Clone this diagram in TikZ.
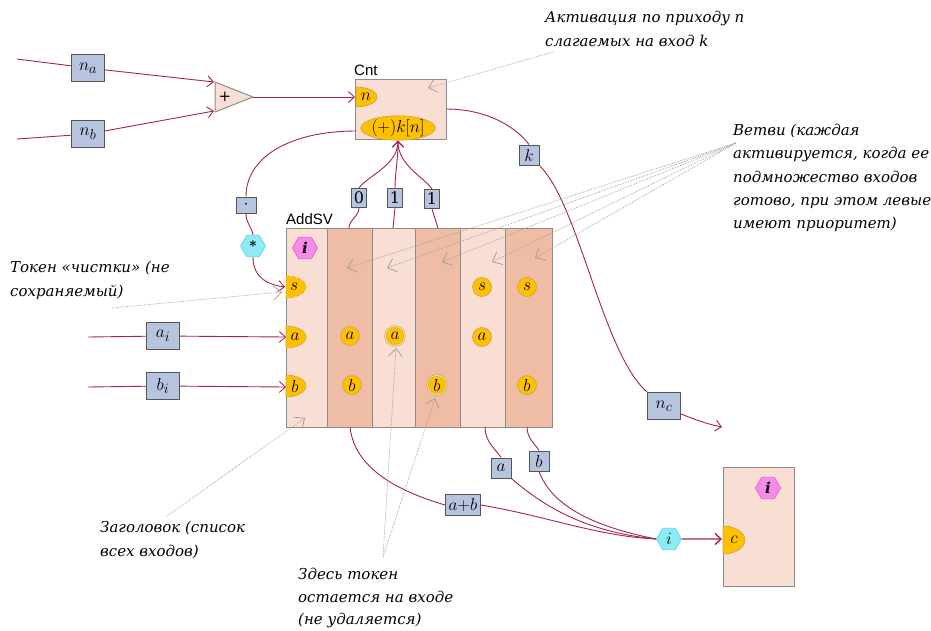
\documentclass[tikz,border=0pt]{standalone}
\usepackage{fontspec}
\setmainfont{DejaVu Serif}
\newfontfamily\sansf{Liberation Sans}
\usetikzlibrary{arrows.meta,shapes.geometric}
\definecolor{wirec}{RGB}{165,35,80}
\definecolor{tokc}{RGB}{255,192,0}
\definecolor{tokb}{RGB}{200,165,70}
\definecolor{boxb}{RGB}{183,196,224}
\definecolor{boxe}{RGB}{85,85,85}
\definecolor{peachL}{RGB}{248,222,211}
\definecolor{peachD}{RGB}{239,188,166}
\definecolor{bord}{RGB}{140,140,140}
\definecolor{cyanh}{RGB}{140,236,246}
\definecolor{cyanb}{RGB}{90,210,230}
\definecolor{pinkh}{RGB}{246,140,232}
\definecolor{pinkb}{RGB}{225,90,210}
\definecolor{anng}{RGB}{155,155,155}
\begin{document}
\begin{tikzpicture}[x=1pt,y=-1pt,
  wire/.style={draw=wirec,line width=0.9pt},
  warr/.style={wire,-{Straight Barb[length=6pt,width=11pt]}},
  lblbox/.style={draw=boxe,fill=boxb,line width=1pt,minimum width=33pt,minimum height=27pt,inner sep=1pt,font=\fontsize{19}{21}\selectfont},
  sbox/.style={lblbox,minimum width=20pt,minimum height=20pt,font=\fontsize{17}{19}\selectfont},
  tbox/.style={lblbox,minimum width=15pt,minimum height=19pt,font=\fontsize{16}{18}\selectfont},
  tok/.style={circle,fill=tokc,draw=tokb,line width=0.6pt,minimum size=19pt,inner sep=0pt,font=\fontsize{17}{17}\selectfont},
  tokd/.style={tok,draw=tokb,double=tokc!45!white,double distance=1pt},
  hexc/.style={regular polygon,regular polygon sides=6,minimum size=25pt,inner sep=0pt,fill=cyanh,draw=cyanb,line width=0.6pt,font=\fontsize{17}{17}\selectfont},
  hexp/.style={hexc,fill=pinkh,draw=pinkb,font=\fontsize{15}{15}\selectfont},
  colL/.style={draw=bord,fill=peachL,line width=1pt,minimum height=199pt,anchor=north west,inner sep=0pt},
  colD/.style={colL,fill=peachD},
  port/.style={fill=tokc,draw=tokb,line width=0.6pt},
  plbl/.style={inner sep=0pt,font=\fontsize{17}{17}\selectfont},
  ann/.style={draw=anng,densely dotted,line width=0.7pt,-{Straight Barb[length=8pt,width=14pt]}},
  anntext/.style={font=\fontsize{15}{24}\selectfont\itshape,align=left,inner sep=0pt,anchor=north west},
  title/.style={font=\sansf\fontsize{15}{15}\selectfont,inner sep=0pt,anchor=base west}
]
\useasboundingbox (0,0) rectangle (931,630);

% ---------- inputs n_a, n_b and adder ----------
\coordinate (naS) at (17,59);
\coordinate (nbS) at (17,139);
\node[lblbox] (na) at (88,68) {$n_a$};
\node[lblbox] (nb) at (88,134) {$n_b$};
\draw[fill=peachL,draw=bord,line width=1pt] (215,82) -- (253,97) -- (215,112) -- cycle;
\node[inner sep=0pt,font=\fontsize{15}{15}\selectfont] (plus) at (225,97) {+};
\coordinate (tin1) at (214,82);
\coordinate (tin2) at (214,111);
\coordinate (tout) at (253,97);
\draw[wire] (naS) -- (na);
\draw[wire] (nbS) -- (nb);
\draw[warr] (na) -- (tin1);
\draw[warr] (nb) -- (tin2);

% ---------- Cnt ----------
\node[draw=bord,fill=peachL,line width=1pt,minimum width=91pt,minimum height=60pt,inner sep=0pt] (cnt) at (400.5,109) {};
\node[title] (cnttitle) at (354,75) {Cnt};
\path[port] (356,87) arc[start angle=90,end angle=-90,x radius=21pt,y radius=10pt] -- cycle;
\node[plbl] (nport) at (366,97) {$n$};
\coordinate (cntn) at (355,97);
\node[ellipse,fill=tokc,draw=tokb,line width=0.6pt,minimum width=57pt,minimum height=20pt,inner sep=0pt,font=\fontsize{16}{16}\selectfont] (kn) at (398,128) {$(+)k[n]$};
\draw[warr] (tout) -- (cntn);

% ---------- AddSV ----------
\node[colL,minimum width=41pt] (c1) at (286,228) {};
\node[colD,minimum width=45pt] (c2) at (327,228) {};
\node[colL,minimum width=43pt] (c3) at (372,228) {};
\node[colD,minimum width=45pt] (c4) at (415,228) {};
\node[colL,minimum width=45pt] (c5) at (460,228) {};
\node[colD,minimum width=47pt] (c6) at (505,228) {};
\node[title] (addtitle) at (286,224) {AddSV};
\node[hexp] (hdi) at (305,248) {\bfseries\itshape i};
\path[port,dashed] (286,276) arc[start angle=90,end angle=-90,x radius=20pt,y radius=11pt] -- cycle;
\path[port] (286,326) arc[start angle=90,end angle=-90,x radius=20pt,y radius=11pt] -- cycle;
\path[port] (286,375) arc[start angle=90,end angle=-90,x radius=20pt,y radius=11pt] -- cycle;
\node[plbl] (ps) at (294,287) {$s$};
\node[plbl] (pa) at (295,337) {$a$};
\node[plbl] (pb) at (295,386) {$b$};
\coordinate (spin) at (285,287);
\coordinate (pain) at (286,337);
\coordinate (pbin) at (286,387);
\node[tok] (t2a) at (350,336) {$a$};
\node[tok] (t2b) at (352,385) {$b$};
\node[tokd] (t3a) at (395,336) {$a$};
\node[tokd] (t4b) at (437,385) {$b$};
\node[tok] (t5s) at (482,287) {$s$};
\node[tok] (t5a) at (482,337) {$a$};
\node[tok] (t6s) at (527,287) {$s$};
\node[tok] (t6b) at (527,385) {$b$};

% ---------- boxes 0 1 1 ----------
\node[tbox] (b0) at (359,198) {0};
\node[tbox] (b1) at (395,198) {1};
\node[tbox] (b2) at (432,199) {1};
\coordinate (a0) at (349,228);
\coordinate (a1) at (393,228);
\coordinate (a2) at (438,228);
\draw[warr] (b0.north) .. controls +(8,-12) and +(0,25) .. (kn.south);
\draw[warr] (b1.north) .. controls +(0,-15) and +(0,20) .. (kn.south);
\draw[warr] (b2.north) .. controls +(-8,-12) and +(0,25) .. (kn.south);
\draw[wire] (b0.south) .. controls +(0,8) and +(0,-8) .. (a0);
\draw[wire] (b1.south) -- (a1);
\draw[wire] (b2.south) -- (a2);

% ---------- cleaning loop ----------
\coordinate (cntL) at (356,131);
\node[lblbox,minimum width=20pt,minimum height=16pt] (dotb) at (246,205) {$\cdot$};
\node[hexc,font=\fontsize{13}{13}\selectfont] (hstar) at (253,246) {\bfseries *};
\draw[wire] (cntL) .. controls +(-65,0) and +(0,-40) .. (dotb.north);
\draw[wire] (dotb.south) .. controls +(0,10) and +(-2,-10) .. (hstar.north);
\draw[warr] (hstar.south) .. controls +(0,22) and +(-15,-2) .. (spin);

% ---------- inputs a_i, b_i ----------
\coordinate (aiS) at (88,337);
\coordinate (biS) at (88,387);
\node[lblbox] (ai) at (163,336) {$a_i$};
\node[lblbox] (bi) at (163,386) {$b_i$};
\draw[wire] (aiS) -- (ai);
\draw[wire] (biS) -- (bi);
\draw[warr] (ai) -- (pain);
\draw[warr] (bi) -- (pbin);

% ---------- k and n_c ----------
\coordinate (cntR) at (446,109);
\node[sbox] (kb) at (529,155) {$k$};
\node[lblbox] (nc) at (664,406) {$n_c$};
\coordinate (ncE) at (722,427);
\draw[wire] (cntR) .. controls +(45,0) and +(-10,-14) .. (kb.north);
\draw[wire] (kb.south east) .. controls +(40,40) and +(-45,-40) .. (nc.north west);
\draw[warr] ([yshift=-8pt]nc.east) .. controls +(15,6) and +(-15,-3) .. (ncE);

% ---------- outputs ----------
\coordinate (c2o) at (350,427);
\coordinate (c5o) at (485,427);
\coordinate (c6o) at (527,427);
\node[lblbox,minimum width=35pt,minimum height=21pt,font=\fontsize{16}{18}\selectfont] (ab) at (463,505) {$a{+}b$};
\node[sbox] (ob) at (501,468) {$a$};
\node[sbox] (bb) at (539,461) {$b$};
\node[hexc] (hi) at (669,539) {$i$};
\draw[wire] (c2o) .. controls +(5,45) and +(-40,-12) .. (ab.west);
\draw[wire] (ab.east) .. controls +(70,12) and +(-60,-3) .. (hi.west);
\draw[wire] (c5o) .. controls +(0,15) and +(-5,-8) .. (ob.north);
\draw[wire] (ob.south east) .. controls +(40,35) and +(-60,-6) .. (hi.west);
\draw[wire] (c6o) .. controls +(0,12) and +(-3,-6) .. (bb.north);
\draw[wire] (bb.south) .. controls +(15,40) and +(-50,-10) .. (hi.west);

% ---------- receiver ----------
\node[draw=bord,fill=peachL,line width=1pt,minimum width=71pt,minimum height=119pt,inner sep=0pt] (rb) at (758.5,526.5) {};
\node[hexp] (rbi) at (768,488) {\bfseries\itshape i};
\path[port] (723,526) arc[start angle=90,end angle=-90,x radius=22pt,y radius=14pt] -- cycle;
\node[plbl] (pc) at (734,540) {$c$};
\coordinate (cin) at (722,539);
\draw[warr,line width=1.4pt] (hi.east) -- (cin);

% ---------- annotations ----------
\node[anntext] (ann1) at (545,11) {Активация по приходу \textit{n}\\слагаемых на вход \textit{k}};
\coordinate (ann1p) at (553,52);
\coordinate (cntA) at (428,88);
\draw[ann] (ann1p) -- (cntA);

\node[anntext,font=\fontsize{15}{23.2}\selectfont\itshape] (ann2) at (733,124) {Ветви (каждая\\активируется, когда ее\\подмножество входов\\готово, при этом левые\\имеют приоритет)};
\coordinate (brS) at (736,143);
\coordinate (h2) at (347,268);
\coordinate (h3) at (387,268);
\coordinate (h4) at (442,262);
\coordinate (h5) at (492,262);
\coordinate (h6) at (535,258);
\draw[ann] (brS) -- (h2);
\draw[ann] (brS) -- (h3);
\draw[ann] (brS) -- (h4);
\draw[ann] (brS) -- (h5);
\draw[ann] (brS) -- (h6);

\node[anntext] (ann3) at (10,261) {Токен «чистки» (не\\сохраняемый)};
\coordinate (ann3p) at (112,308);
\coordinate (sA) at (282,292);
\draw[ann] (ann3p) -- (sA);

\node[anntext] (ann4) at (100,521) {Заголовок (список\\всех входов)};
\coordinate (ann4p) at (167,516);
\coordinate (hA) at (305,418);
\draw[ann] (ann4p) -- (hA);

\node[anntext,font=\fontsize{15}{22.5}\selectfont\itshape] (ann5) at (298,568) {Здесь токен\\остается на входе\\(не удаляется)};
\coordinate (ann5p) at (383,557);
\coordinate (tA) at (396,348);
\coordinate (tB) at (435,398);
\draw[ann] (ann5p) -- (tA);
\draw[ann] (ann5p) -- (tB);
\end{tikzpicture}
\end{document}
